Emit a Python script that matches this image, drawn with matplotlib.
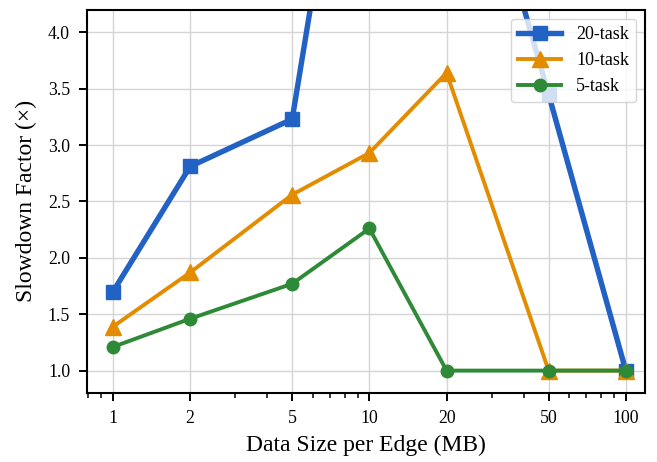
import matplotlib.pyplot as plt

plt.rcParams['font.family'] = ['Liberation Serif', 'DejaVu Serif']

data_size = [1, 2, 5, 10, 20, 50, 100]
task20 = [1.70, 2.81, 3.23, 7.4, 6.6, 3.45, 1.0]
task10 = [1.39, 1.87, 2.56, 2.93, 3.64, 1.0, 1.0]
task5 = [1.21, 1.46, 1.77, 2.26, 1.0, 1.0, 1.0]

fig, ax = plt.subplots(figsize=(6.57, 4.62), dpi=100)
fig.subplots_adjust(left=0.132, right=0.982, top=0.979, bottom=0.149)

ax.plot(data_size, task20, color='#2262c4', marker='s', markersize=10.5, linewidth=3.9, label='20-task')
ax.plot(data_size, task10, color='#e38c00', marker='^', markersize=11, linewidth=2.8, label='10-task')
ax.plot(data_size, task5, color='#2e8a37', marker='o', markersize=9, linewidth=2.8, label='5-task')

ax.set_xscale('log')
ax.set_xlim(0.79, 119)
ax.set_ylim(0.8, 4.2)
ax.set_xticks(data_size)
ax.set_xticklabels([str(v) for v in data_size])
ax.set_yticks([1.0, 1.5, 2.0, 2.5, 3.0, 3.5, 4.0])
ax.tick_params(which='major', labelsize=12.8, length=6, width=1.4, pad=6)
ax.tick_params(which='minor', length=3.5, width=1.1)
ax.grid(True, color='#d5d5d5', linewidth=1)
for s in ax.spines.values():
    s.set_linewidth(1.5)

ax.set_xlabel('Data Size per Edge (MB)', fontsize=17, labelpad=6)
ax.set_ylabel('Slowdown Factor (×)', fontsize=17, labelpad=8)
ax.legend(loc='upper right', fontsize=13, framealpha=0.8, handlelength=2.4)

plt.savefig('out.png')
